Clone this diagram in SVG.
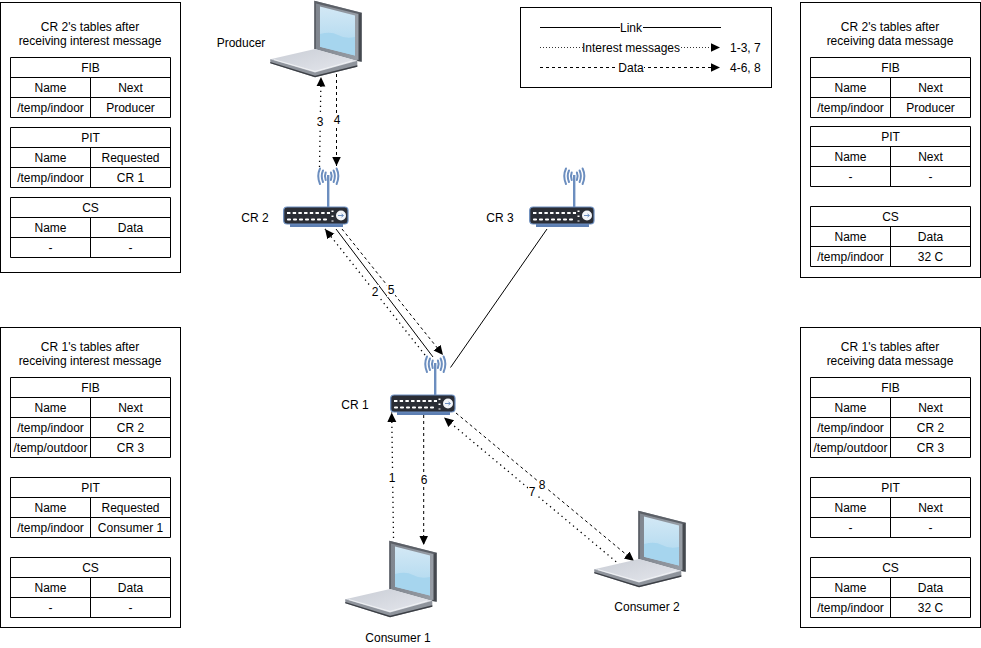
<svg xmlns="http://www.w3.org/2000/svg" xmlns:xlink="http://www.w3.org/1999/xlink" width="981" height="648" viewBox="0 0 981 648">
<style>
text{font-family:"Liberation Sans",Arial,sans-serif;font-size:12px;fill:#000;text-anchor:middle}
.box{fill:#fff;stroke:#000;stroke-width:1}
.grid{fill:none;stroke:#000;stroke-width:1}
.link{fill:none;stroke:#000;stroke-width:1}
.dot{fill:none;stroke:#000;stroke-width:1.3;stroke-dasharray:1.3 3.7;marker-end:url(#tip)}
.dash{fill:none;stroke:#000;stroke-width:1;stroke-dasharray:3 3;marker-end:url(#tip)}
.ldot{fill:none;stroke:#000;stroke-width:.8;stroke-dasharray:1 2;marker-end:url(#tip)}
.lbl{fill:#fff;stroke:none}
.wave{fill:none;stroke:#6c8ebf;stroke-width:2;stroke-linecap:round}
.start{text-anchor:start}
</style>
<defs>
<marker id="tip" markerUnits="userSpaceOnUse" markerWidth="11" markerHeight="11" refX="9.5" refY="5" orient="auto">
<path d="M0 .5L9.5 5L0 9.500Z" fill="#000"/>
</marker>
<linearGradient id="lid" x1="0" y1="0" x2="1" y2="0"><stop offset="0" stop-color="#7f858e"/><stop offset="1" stop-color="#9aa0a8"/></linearGradient>
<linearGradient id="scr" x1="0" y1="0" x2="0" y2="1"><stop offset="0" stop-color="#d3e8f5"/><stop offset="1" stop-color="#a9d6ee"/></linearGradient>
<linearGradient id="deck" x1="0" y1="0" x2="1" y2="1"><stop offset="0" stop-color="#c9cdd5"/><stop offset="1" stop-color="#e6e8ee"/></linearGradient>
<g id="laptop">
<path d="M314.3 .7L361.7 12.7V61.7L357.3 61L314.3 49Z" fill="url(#lid)"/>
<path d="M314.3 .7L361.700 12.7L360.500 14.500L316 3.500V49H314.3Z" fill="#5c6067"/>
<path d="M358.500 14L361.700 12.7V61.7L357.300 61V59.800L358.500 60Z" fill="#45494f"/>
<path d="M320 6.500L355 15.500V55.500L320 46.700Z" fill="url(#scr)"/>
<path d="M320 34Q331 31 338 35T355 37V55.500L320 46.700Z" fill="#a6d5ee"/>
<path d="M270.300 59.300L315 49L357.300 61L315 74L270.300 61Z" fill="url(#deck)"/>
<path d="M270.300 59.300L315 72.500L357.300 60.800V66.700L315 77.300L270.300 63.300Z" fill="#8f949c"/>
<path d="M270.300 63.300L315 77.300L357.300 66.700V65.200L315 75.800L270.300 62Z" fill="#3b3e44"/>
<path d="M274 59.600L315 71.400L352 61" fill="none" stroke="#f5f6f8" stroke-width=".8"/>
</g>
<g id="router">
<rect x="290" y="223" width="53" height="4" fill="#5d7fb3"/>
<rect x="327" y="175" width="2.400" height="33" fill="#6c8ebf"/>
<path class="wave" d="M320 168.500Q316.500 176 320 184M323 170.500Q320.500 176 323 182M325.700 172.500Q324.200 176 325.700 180M336.600 168.500Q340.100 176 336.600 184M333.600 170.500Q336.100 176 333.600 182M330.900 172.500Q332.400 176 330.900 180"/>
<rect x="283.700" y="207" width="64.300" height="17" rx="3.500" fill="#2a2d35" stroke="#6c8ebf" stroke-width="1.200"/>
<path d="M287 213H330" stroke="#fff" stroke-width="2.200" stroke-dasharray="3.400 2.300" fill="none"/>
<path d="M288 219.500H330" stroke="#fff" stroke-width="2.200" stroke-dasharray="2 4" stroke-linecap="round" fill="none"/>
<path d="M332.500 210.500V221.500" stroke="#fff" stroke-width="2" stroke-dasharray="1.600 3.400" fill="none"/>
<circle cx="341" cy="215.500" r="5" fill="#f2f4f8"/>
<path d="M338 215.500H343M341.500 214L343.500 215.500L341.500 217" stroke="#6c8ebf" stroke-width="1" fill="none"/>
</g>
</defs>
<rect width="981" height="648" fill="#fff"/>

<g id="connectors">
<path class="link" d="M336 229L433 357"/>
<path class="link" d="M547 229L450.500 367.500"/>
<path class="dot" d="M319.500 167L321 77"/>
<path class="dash" d="M336.500 74V166"/>
<path class="dot" d="M425 355L325 229"/>
<path class="dash" d="M342 229L443 355"/>
<path class="dot" d="M393.500 538L391.700 412.500"/>
<path class="dash" d="M423.700 415V545"/>
<path class="dot" d="M620 565L444 417.500"/>
<path class="dash" d="M456 413L634 561"/>
<rect class="lbl" x="316" y="115" width="8" height="14"/><text x="320" y="126">3</text>
<rect class="lbl" x="333" y="113" width="8" height="14"/><text x="337" y="124">4</text>
<rect class="lbl" x="371" y="285" width="8" height="14"/><text x="375" y="296">2</text>
<rect class="lbl" x="387" y="283" width="8" height="14"/><text x="391" y="294">5</text>
<rect class="lbl" x="388" y="471" width="8" height="14"/><text x="392" y="482">1</text>
<rect class="lbl" x="420" y="473" width="8" height="14"/><text x="424" y="484">6</text>
<rect class="lbl" x="528" y="485" width="8" height="14"/><text x="532" y="496">7</text>
<rect class="lbl" x="538" y="478" width="8" height="14"/><text x="542" y="489">8</text>
</g>

<g id="producer"><use href="#laptop"/><text x="241" y="47">Producer</text></g>
<g id="consumer1"><use href="#laptop" transform="translate(75,540)"/><text x="398" y="642">Consumer 1</text></g>
<g id="consumer2"><use href="#laptop" transform="translate(324,510)"/><text x="647" y="611">Consumer 2</text></g>
<g id="cr2"><use href="#router"/><text x="255" y="222">CR 2</text></g>
<g id="cr3"><use href="#router" transform="translate(246,0)"/><text x="500" y="222">CR 3</text></g>
<g id="cr1"><use href="#router" transform="translate(107,188)"/><text x="355" y="409">CR 1</text></g>

<g id="legend">
<rect class="box" x="520.500" y="7.500" width="251" height="80"/>
<path class="link" d="M540 27.500H721"/>
<path class="ldot" d="M540 47.500H720"/>
<path class="dash" d="M540 67.500H720"/>
<rect class="lbl" x="620" y="21" width="23" height="14"/><text x="631" y="32">Link</text>
<rect class="lbl" x="583" y="41" width="97" height="14"/><text x="631" y="52">Interest messages</text>
<rect class="lbl" x="618" y="61" width="26" height="14"/><text x="631" y="72">Data</text>
<text class="start" x="730" y="52">1-3, 7</text>
<text class="start" x="730" y="72">4-6, 8</text>
</g>

<g id="cr2-interest">
<rect class="box" x="0.500" y="2.500" width="180" height="270"/>
<text x="90" y="30.500">CR 2's tables after</text><text x="90" y="44.500">receiving interest message</text>
<g transform="translate(10.500,57.500)"><path class="grid" d="M0 0H160V60H0ZM0 20H160M0 40H160M80 20V60"/><text x="80" y="14">FIB</text><text x="40" y="34">Name</text><text x="120" y="34">Next</text><text x="40" y="54">/temp/indoor</text><text x="120" y="54">Producer</text></g>
<g transform="translate(10.500,127.500)"><path class="grid" d="M0 0H160V60H0ZM0 20H160M0 40H160M80 20V60"/><text x="80" y="14">PIT</text><text x="40" y="34">Name</text><text x="120" y="34">Requested</text><text x="40" y="54">/temp/indoor</text><text x="120" y="54">CR 1</text></g>
<g transform="translate(10.500,197.500)"><path class="grid" d="M0 0H160V60H0ZM0 20H160M0 40H160M80 20V60"/><text x="80" y="14">CS</text><text x="40" y="34">Name</text><text x="120" y="34">Data</text><text x="40" y="54">-</text><text x="120" y="54">-</text></g>
</g>

<g id="cr2-data">
<rect class="box" x="800.500" y="2.500" width="180" height="275"/>
<text x="890" y="30.500">CR 2's tables after</text><text x="890" y="44.500">receiving data message</text>
<g transform="translate(810.500,57.500)"><path class="grid" d="M0 0H160V60H0ZM0 20H160M0 40H160M80 20V60"/><text x="80" y="14">FIB</text><text x="40" y="34">Name</text><text x="120" y="34">Next</text><text x="40" y="54">/temp/indoor</text><text x="120" y="54">Producer</text></g>
<g transform="translate(810.500,126.500)"><path class="grid" d="M0 0H160V60H0ZM0 20H160M0 40H160M80 20V60"/><text x="80" y="14">PIT</text><text x="40" y="34">Name</text><text x="120" y="34">Next</text><text x="40" y="54">-</text><text x="120" y="54">-</text></g>
<g transform="translate(810.500,206.500)"><path class="grid" d="M0 0H160V60H0ZM0 20H160M0 40H160M80 20V60"/><text x="80" y="14">CS</text><text x="40" y="34">Name</text><text x="120" y="34">Data</text><text x="40" y="54">/temp/indoor</text><text x="120" y="54">32 C</text></g>
</g>

<g id="cr1-interest">
<rect class="box" x="0.500" y="327.500" width="180" height="300"/>
<text x="90" y="350.500">CR 1's tables after</text><text x="90" y="364.500">receiving interest message</text>
<g transform="translate(10.500,377.500)"><path class="grid" d="M0 0H160V80H0ZM0 20H160M0 40H160M0 60H160M80 20V80"/><text x="80" y="14">FIB</text><text x="40" y="34">Name</text><text x="120" y="34">Next</text><text x="40" y="54">/temp/indoor</text><text x="120" y="54">CR 2</text><text x="40" y="74">/temp/outdoor</text><text x="120" y="74">CR 3</text></g>
<g transform="translate(10.500,477.500)"><path class="grid" d="M0 0H160V60H0ZM0 20H160M0 40H160M80 20V60"/><text x="80" y="14">PIT</text><text x="40" y="34">Name</text><text x="120" y="34">Requested</text><text x="40" y="54">/temp/indoor</text><text x="120" y="54">Consumer 1</text></g>
<g transform="translate(10.500,557.500)"><path class="grid" d="M0 0H160V60H0ZM0 20H160M0 40H160M80 20V60"/><text x="80" y="14">CS</text><text x="40" y="34">Name</text><text x="120" y="34">Data</text><text x="40" y="54">-</text><text x="120" y="54">-</text></g>
</g>

<g id="cr1-data">
<rect class="box" x="800.500" y="327.500" width="180" height="300"/>
<text x="890" y="350.500">CR 1's tables after</text><text x="890" y="364.500">receiving data message</text>
<g transform="translate(810.500,377.500)"><path class="grid" d="M0 0H160V80H0ZM0 20H160M0 40H160M0 60H160M80 20V80"/><text x="80" y="14">FIB</text><text x="40" y="34">Name</text><text x="120" y="34">Next</text><text x="40" y="54">/temp/indoor</text><text x="120" y="54">CR 2</text><text x="40" y="74">/temp/outdoor</text><text x="120" y="74">CR 3</text></g>
<g transform="translate(810.500,477.500)"><path class="grid" d="M0 0H160V60H0ZM0 20H160M0 40H160M80 20V60"/><text x="80" y="14">PIT</text><text x="40" y="34">Name</text><text x="120" y="34">Next</text><text x="40" y="54">-</text><text x="120" y="54">-</text></g>
<g transform="translate(810.500,557.500)"><path class="grid" d="M0 0H160V60H0ZM0 20H160M0 40H160M80 20V60"/><text x="80" y="14">CS</text><text x="40" y="34">Name</text><text x="120" y="34">Data</text><text x="40" y="54">/temp/indoor</text><text x="120" y="54">32 C</text></g>
</g>
</svg>
